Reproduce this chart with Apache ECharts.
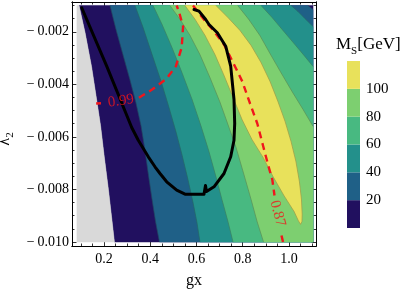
<!DOCTYPE html>
<html><head><meta charset="utf-8">
<script src="https://cdn.jsdelivr.net/npm/echarts@6/dist/echarts.min.js"></script>
<style>html,body{margin:0;padding:0;background:#fff}#c{width:403px;height:291px}</style>
</head><body><div id="c"></div>
<script>
// ---------------- data ----------------
const gxRange = [0.083, 1.104];          // extent of the computed region
const lambda2Range = [-0.010, -0.001];
const xAxisView = [0.0616, 1.1168];      // frame extent
const yAxisView = [-0.010152, -0.000868];
const xTicks = [0.2, 0.4, 0.6, 0.8, 1.0];
const xMinorTicks = [0.1,0.15,0.25,0.3,0.35,0.45,0.5,0.55,0.65,0.7,0.75,0.85,0.9,0.95,1.05,1.1];
const yTicks = [-0.010, -0.008, -0.006, -0.004, -0.002];
const yMinorTicks = [-0.0095,-0.009,-0.0085,-0.0075,-0.007,-0.0065,-0.0055,-0.005,-0.0045,-0.0035,-0.003,-0.0025,-0.0015,-0.001];
const colorbarEdges = [0, 20, 40, 60, 80, 100, 120];
const colorbarLabels = [20, 40, 60, 80, 100];

// boundary of excluded (gray) region
const C0L = [[0.092,-0.0010],[0.118,-0.00203],[0.146,-0.00332],[0.168,-0.00458],[0.185,-0.00557],[0.201,-0.00675],[0.219,-0.00800],[0.236,-0.00930],[0.245,-0.0100]];
// M_S = 20,40,60,80 contours, rising side (left)
const C20L = [[0.226,-0.0010],[0.252,-0.00191],[0.282,-0.00287],[0.312,-0.00382],[0.338,-0.00469],[0.360,-0.00557],[0.377,-0.00648],[0.392,-0.00743],[0.408,-0.00838],[0.423,-0.00922],[0.440,-0.0100]];
const C40L = [[0.334,-0.0010],[0.369,-0.00184],[0.408,-0.00287],[0.447,-0.00389],[0.481,-0.00488],[0.511,-0.00580],[0.537,-0.00667],[0.563,-0.00762],[0.585,-0.00850],[0.602,-0.00926],[0.615,-0.0100]];
const C60L = [[0.412,-0.0010],[0.451,-0.00172],[0.494,-0.00260],[0.537,-0.00355],[0.581,-0.00458],[0.620,-0.00560],[0.654,-0.00656],[0.684,-0.00751],[0.710,-0.00838],[0.736,-0.00922],[0.758,-0.0100]];
const C80L = [[0.485,-0.0010],[0.529,-0.00153],[0.572,-0.00214],[0.615,-0.00287],[0.658,-0.00374],[0.702,-0.00469],[0.736,-0.00553],[0.771,-0.00640],[0.805,-0.00743],[0.836,-0.00838],[0.862,-0.00922],[0.890,-0.0100]];
// M_S = 100 closed contour (yellow island)
const C100 = [[0.550,-0.0010],[0.594,-0.00153],[0.637,-0.00214],[0.680,-0.00287],[0.719,-0.00366],[0.758,-0.00450],[0.797,-0.00534],[0.840,-0.00610],[0.888,-0.00678],[0.931,-0.00751],[0.978,-0.00823],[1.022,-0.00884],[1.040,-0.00918],[1.050,-0.00933],[1.056,-0.00922],[1.057,-0.00895],[1.054,-0.00838],[1.045,-0.00770],[1.030,-0.00694],[1.009,-0.00618],[0.983,-0.00541],[0.952,-0.00465],[0.918,-0.00389],[0.879,-0.00317],[0.836,-0.00252],[0.788,-0.00195],[0.736,-0.00146],[0.684,-0.0010]];
// falling side (right) contours, from top edge to right edge
const C80R = [[0.778,-0.0010],[0.826,-0.00153],[0.874,-0.00214],[0.918,-0.00283],[0.965,-0.00355],[1.013,-0.00427],[1.061,-0.00496],[1.104,-0.00560]];
const C60R = [[0.879,-0.0010],[0.927,-0.00146],[0.974,-0.00195],[1.022,-0.00245],[1.065,-0.00290],[1.104,-0.00332]];
const C40R = [[1.009,-0.0010],[1.039,-0.00123],[1.069,-0.00150],[1.104,-0.00180]];
const C20R = [[1.082,-0.0010],[1.104,-0.00115]];

// thick black curve
const blackCurve = [[0.1036,-0.001087],[0.2117,-0.00331],[0.3198,-0.005643],[0.3483,-0.006126],[0.3916,-0.006758],[0.4205,-0.007138],[0.4422,-0.007393],[0.4711,-0.007709],[0.5144,-0.008029],[0.5503,-0.008181],[0.6065,-0.008181],[0.6324,-0.008181],[0.6389,-0.00785],[0.6432,-0.008078],[0.6497,-0.008002],[0.6757,-0.007899],[0.7189,-0.007393],[0.7479,-0.006758],[0.7622,-0.006126],[0.7652,-0.00549],[0.7622,-0.004577],[0.7479,-0.00331],[0.7263,-0.002549],[0.69,-0.002039],[0.6541,-0.001723],[0.6398,-0.001533],[0.6108,-0.001217],[0.5892,-0.001152]];
// red dashed contours (labelled 0.99 and 0.87)
const red099A = [[0.166,-0.00473],[0.187,-0.00472]];
const red099B = [[0.351,-0.00451],[0.408,-0.00420],[0.471,-0.00378],[0.511,-0.00331],[0.536,-0.00260],[0.542,-0.00180],[0.524,-0.00123],[0.514,-0.0010]];
const red087A = [[0.5849,-0.0010],[0.6324,-0.001533],[0.6757,-0.001978],[0.7189,-0.002484],[0.7622,-0.003245],[0.7981,-0.003892],[0.8314,-0.004729],[0.8629,-0.00549],[0.8876,-0.006328],[0.9092,-0.007051],[0.9278,-0.007622],[0.9373,-0.00823]];
const red087B = [[0.9676,-0.009753],[0.9741,-0.0100]];
const contourLabels = [
  {text: '0.99', at: [0.2735, -0.004634], angle: 8},
  {text: '0.87', at: [0.9503, -0.008915], angle: -75}
];

// ---------------- styling ----------------
const FONT = "'Liberation Serif','DejaVu Serif',serif";
const GRAY = '#d9d9d9';
const BAND = ['#21105f', '#1f6087', '#23908b', '#48b981', '#7dcf70', '#e8e15b'];
const RED = '#f0161c';

const [x0, x1] = gxRange, [y0, y1] = lambda2Range;
const regions = [
  {poly: [...C0L, [x1, y0], [x1, y1]], color: BAND[0]},
  {poly: [[x0, y1], ...C0L, [x0, y0]], color: GRAY},
  {poly: [...C20L, [x1, y0], ...C20R.slice().reverse()], color: BAND[1]},
  {poly: [...C40L, [x1, y0], ...C40R.slice().reverse()], color: BAND[2]},
  {poly: [...C60L, [x1, y0], ...C60R.slice().reverse()], color: BAND[3]},
  {poly: [...C80L, [x1, y0], ...C80R.slice().reverse()], color: BAND[4]},
  {poly: C100, color: BAND[5]}
];

function xAx(pos, ticks, len, withLabels) {
  return {type: 'value', gridIndex: 0, min: xAxisView[0], max: xAxisView[1], position: pos,
    axisLine: {show: true, onZero: false, lineStyle: {color: '#000', width: 1}},
    axisTick: {show: true, inside: true, length: len, customValues: ticks, lineStyle: {color: '#000', width: 0.8}},
    axisLabel: withLabels ? {customValues: xTicks, formatter: v => v.toFixed(1), color: '#000', fontFamily: FONT, fontSize: 14, margin: 6} : {show: false},
    splitLine: {show: false},
    name: withLabels ? 'gx' : '', nameLocation: 'middle', nameGap: 27,
    nameTextStyle: {color: '#000', fontFamily: FONT, fontSize: 16}
  };
}
function yAx(pos, ticks, len, withLabels) {
  return {type: 'value', gridIndex: 0, min: yAxisView[0], max: yAxisView[1], position: pos,
    axisLine: {show: true, onZero: false, lineStyle: {color: '#000', width: 1}},
    axisTick: {show: true, inside: true, length: len, customValues: ticks, lineStyle: {color: '#000', width: 0.8}},
    axisLabel: withLabels ? {customValues: yTicks, formatter: v => '\u2212\u2009' + Math.abs(v).toFixed(3), color: '#000', fontFamily: FONT, fontSize: 14, margin: 3} : {show: false},
    splitLine: {show: false},
    name: withLabels ? '{a|λ}{b|2}' : '', nameLocation: 'middle', nameGap: 53, nameRotate: 90,
    nameTextStyle: {color: '#000', fontFamily: FONT, padding: [0, 30, 0, 0],
      rich: {a: {fontSize: 16, fontFamily: FONT, lineHeight: 22, verticalAlign: 'middle'},
             b: {fontSize: 11, fontFamily: FONT, lineHeight: 22, verticalAlign: 'bottom'}}}
  };
}

const lineSeries = (data, style, z) => ({type: 'line', xAxisIndex: 0, yAxisIndex: 0, data, showSymbol: false, symbol: 'none', silent: true, animation: false, z, lineStyle: style});
const thin = {color: 'rgba(40,40,40,0.45)', width: 0.6};
const redStyle = {color: RED, width: 2.4, type: [7, 5]};

const series = [
  {type: 'custom', xAxisIndex: 0, yAxisIndex: 0, animation: false, silent: true, z: 1,
    data: regions.map((r, i) => [r.poly[0][0], r.poly[0][1], i]),
    renderItem: (params, api) => {
      const r = regions[params.dataIndex];
      return {type: 'polygon', shape: {points: r.poly.map(p => api.coord(p))},
        style: {fill: r.color, stroke: r.color, lineWidth: 0.5}};
    }},
  ...[C20L, C40L, C60L, C80L, C100, C80R, C60R, C40R, C20R].map(c => lineSeries(c, thin, 2)),
  lineSeries(red099A, redStyle, 4), lineSeries(red099B, redStyle, 4),
  lineSeries(red087A, redStyle, 4), lineSeries(red087B, redStyle, 4),
  lineSeries(blackCurve, {color: '#000', width: 3, cap: 'round', join: 'round'}, 5),
  ...contourLabels.map(l => ({type: 'scatter', xAxisIndex: 0, yAxisIndex: 0, data: [l.at], symbolSize: 1,
    itemStyle: {color: 'rgba(0,0,0,0)'}, silent: true, animation: false, z: 6,
    label: {show: true, position: 'inside', formatter: l.text, rotate: l.angle, color: RED, fontFamily: FONT, fontSize: 15}})),
  ...BAND.map((c, i) => ({type: 'bar', xAxisIndex: 4, yAxisIndex: 4, stack: 'cb', barWidth: '100%', animation: false, silent: true,
    data: [colorbarEdges[i + 1] - colorbarEdges[i]], itemStyle: {color: c}}))
];

const chart = echarts.init(document.getElementById('c'), null, {renderer: 'canvas'});
chart.setOption({
  animation: false,
  backgroundColor: '#fff',
  title: {text: '{m|M}{s|S}{m|[GeV]}', left: 331, top: 28,
    textStyle: {fontWeight: 'normal', rich: {m: {fontSize: 17, fontWeight: 'normal', fontFamily: FONT, color: '#000', lineHeight: 24, verticalAlign: 'middle'},
                       s: {fontSize: 11, fontWeight: 'normal', fontFamily: FONT, color: '#000', lineHeight: 24, verticalAlign: 'bottom'}}}},
  grid: [
    {left: 72, right: 87, top: 2, bottom: 45, containLabel: false, outerBoundsMode: 'none'},
    {left: 347, top: 61, width: 13, height: 167, containLabel: false, outerBoundsMode: 'none'}
  ],
  xAxis: [
    xAx('bottom', xTicks, 4.5, true), xAx('bottom', xMinorTicks, 2.5, false),
    xAx('top', xTicks, 4.5, false), xAx('top', xMinorTicks, 2.5, false),
    {type: 'category', gridIndex: 1, data: ['M_S'], show: false}
  ],
  yAxis: [
    yAx('left', yTicks, 4.5, true), yAx('left', yMinorTicks, 2.5, false),
    yAx('right', yTicks, 4.5, false), yAx('right', yMinorTicks, 2.5, false),
    {type: 'value', gridIndex: 1, min: colorbarEdges[0], max: colorbarEdges[colorbarEdges.length - 1], position: 'right',
      axisLine: {show: false}, axisTick: {show: false}, splitLine: {show: false},
      axisLabel: {customValues: colorbarLabels, color: '#000', fontFamily: FONT, fontSize: 15, margin: 6}}
  ],
  series
});
</script></body></html>
